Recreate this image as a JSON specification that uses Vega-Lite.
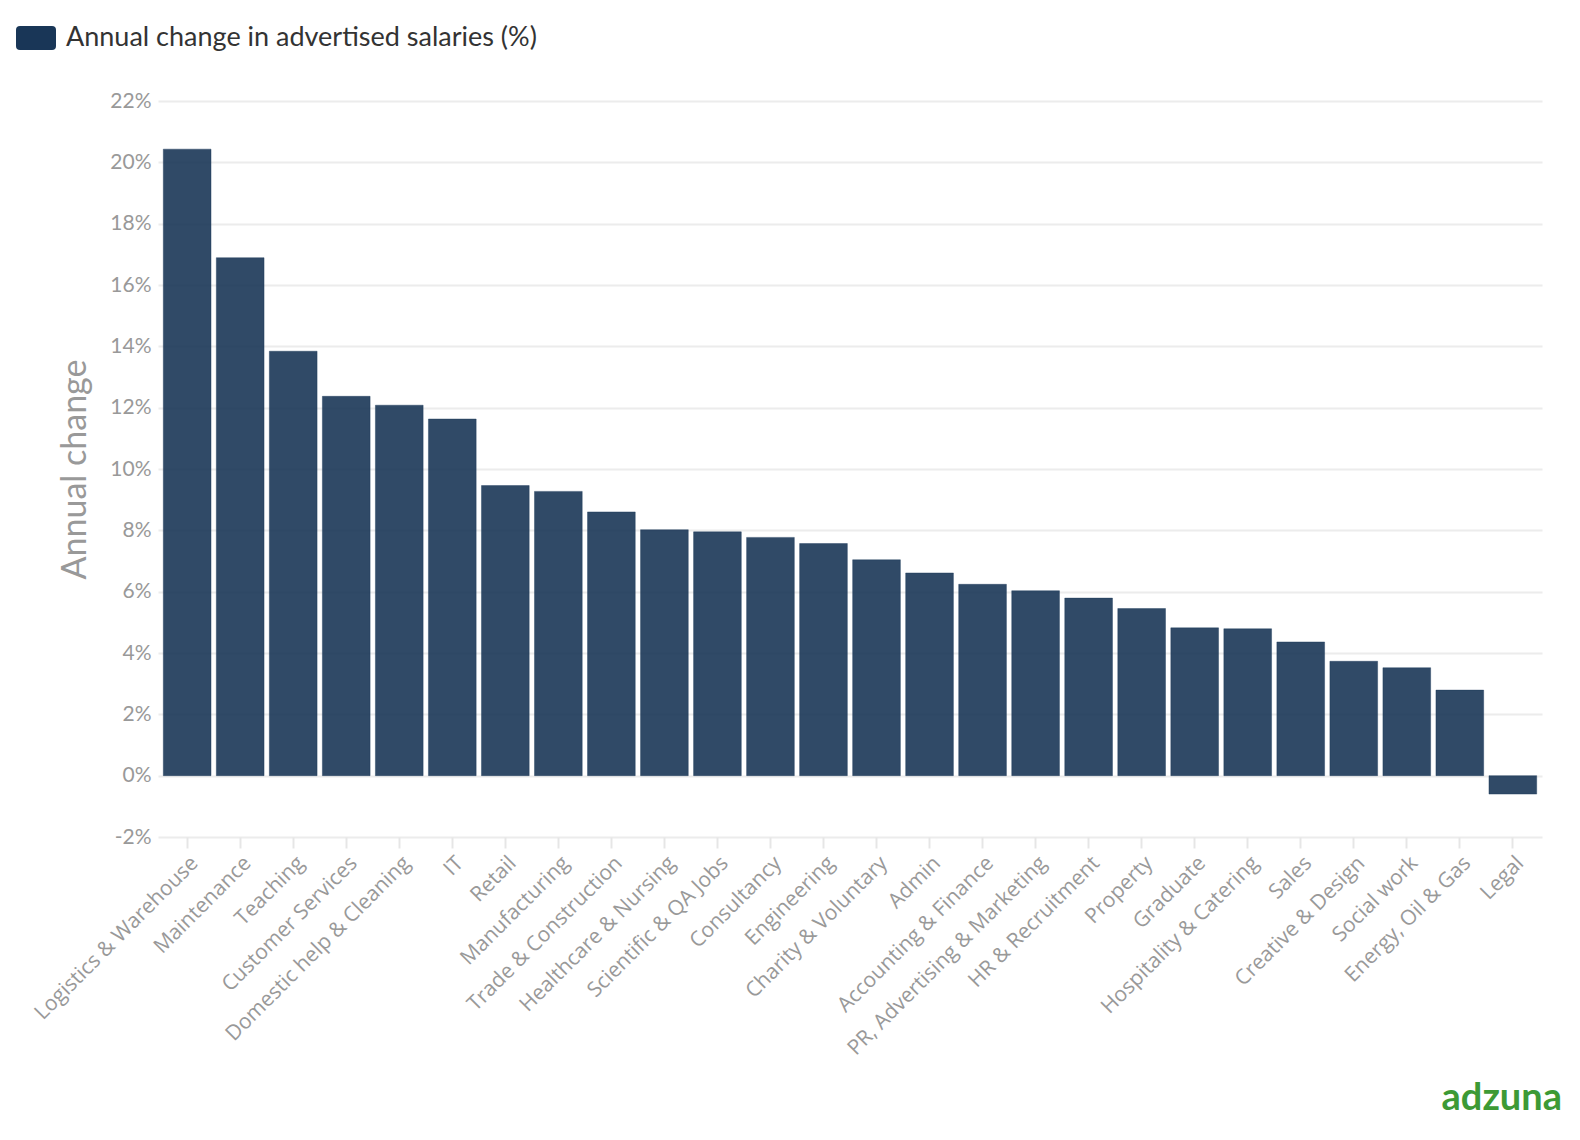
{
  "$schema": "https://vega.github.io/schema/vega-lite/v6.json",
  "autosize": "none",
  "width": 1384,
  "height": 736,
  "padding": {"left": 158, "top": 101, "right": 38, "bottom": 303},
  "background": "white",
  "title": {
    "text": "adzuna",
    "orient": "bottom",
    "anchor": "end",
    "frame": "group",
    "font": "Lato",
    "fontSize": 38,
    "fontWeight": 700,
    "color": "#3d9a35",
    "offset": 21,
    "dx": 20
  },
  "data": {
    "values": [
      {"sector": "Logistics & Warehouse", "change": 20.43, "series": "Annual change in advertised salaries (%)"},
      {"sector": "Maintenance", "change": 16.89, "series": "Annual change in advertised salaries (%)"},
      {"sector": "Teaching", "change": 13.84, "series": "Annual change in advertised salaries (%)"},
      {"sector": "Customer Services", "change": 12.37, "series": "Annual change in advertised salaries (%)"},
      {"sector": "Domestic help & Cleaning", "change": 12.08, "series": "Annual change in advertised salaries (%)"},
      {"sector": "IT", "change": 11.63, "series": "Annual change in advertised salaries (%)"},
      {"sector": "Retail", "change": 9.46, "series": "Annual change in advertised salaries (%)"},
      {"sector": "Manufacturing", "change": 9.27, "series": "Annual change in advertised salaries (%)"},
      {"sector": "Trade & Construction", "change": 8.6, "series": "Annual change in advertised salaries (%)"},
      {"sector": "Healthcare & Nursing", "change": 8.02, "series": "Annual change in advertised salaries (%)"},
      {"sector": "Scientific & QA Jobs", "change": 7.95, "series": "Annual change in advertised salaries (%)"},
      {"sector": "Consultancy", "change": 7.77, "series": "Annual change in advertised salaries (%)"},
      {"sector": "Engineering", "change": 7.57, "series": "Annual change in advertised salaries (%)"},
      {"sector": "Charity & Voluntary", "change": 7.04, "series": "Annual change in advertised salaries (%)"},
      {"sector": "Admin", "change": 6.61, "series": "Annual change in advertised salaries (%)"},
      {"sector": "Accounting & Finance", "change": 6.24, "series": "Annual change in advertised salaries (%)"},
      {"sector": "PR, Advertising & Marketing", "change": 6.03, "series": "Annual change in advertised salaries (%)"},
      {"sector": "HR & Recruitment", "change": 5.79, "series": "Annual change in advertised salaries (%)"},
      {"sector": "Property", "change": 5.45, "series": "Annual change in advertised salaries (%)"},
      {"sector": "Graduate", "change": 4.82, "series": "Annual change in advertised salaries (%)"},
      {"sector": "Hospitality & Catering", "change": 4.79, "series": "Annual change in advertised salaries (%)"},
      {"sector": "Sales", "change": 4.36, "series": "Annual change in advertised salaries (%)"},
      {"sector": "Creative & Design", "change": 3.73, "series": "Annual change in advertised salaries (%)"},
      {"sector": "Social work", "change": 3.52, "series": "Annual change in advertised salaries (%)"},
      {"sector": "Energy, Oil & Gas", "change": 2.79, "series": "Annual change in advertised salaries (%)"},
      {"sector": "Legal", "change": -0.6, "series": "Annual change in advertised salaries (%)"}
    ]
  },
  "mark": {
    "type": "bar",
    "fillOpacity": 0.9,
    "stroke": "#193657",
    "strokeOpacity": 0.4,
    "strokeWidth": 1
  },
  "encoding": {
    "x": {
      "field": "sector",
      "type": "nominal",
      "sort": null,
      "scale": {"paddingInner": 0.1, "paddingOuter": 0.1},
      "axis": {
        "title": null,
        "domain": false,
        "labelAngle": -45,
        "labelFont": "Open Sans",
        "labelFontSize": 21,
        "labelColor": "#999999",
        "labelPadding": 4,
        "tickColor": "#e6e6e6",
        "tickSize": 11,
        "tickWidth": 2,
        "labelLimit": 400
      }
    },
    "y": {
      "field": "change",
      "type": "quantitative",
      "scale": {"domain": [-2, 22], "nice": false, "zero": false},
      "axis": {
        "title": "Annual change",
        "titleFont": "Lato",
        "titleFontSize": 34,
        "titleFontWeight": "normal",
        "titleColor": "#999999",
        "titlePadding": 17,
        "values": [-2, 0, 2, 4, 6, 8, 10, 12, 14, 16, 18, 20, 22],
        "labelExpr": "datum.value + '%'",
        "labelFont": "Lato",
        "labelFontSize": 21,
        "labelColor": "#999999",
        "labelPadding": 7,
        "ticks": false,
        "domain": false,
        "gridColor": "#ececec",
        "gridWidth": 2
      }
    },
    "color": {
      "field": "series",
      "type": "nominal",
      "scale": {"range": ["#193657"]},
      "legend": {
        "title": null,
        "orient": "none",
        "legendX": -142,
        "legendY": -83,
        "symbolType": "M-0.8,-0.6 L0.8,-0.6 Q1,-0.6 1,-0.4 L1,0.4 Q1,0.6 0.8,0.6 L-0.8,0.6 Q-1,0.6 -1,0.4 L-1,-0.4 Q-1,-0.6 -0.8,-0.6 Z",
        "symbolSize": 1600,
        "symbolOpacity": 1,
        "symbolStrokeWidth": 0,
        "labelFont": "Lato",
        "labelFontSize": 27,
        "labelColor": "#333333",
        "labelOffset": 10,
        "labelLimit": 800
      }
    }
  },
  "config": {
    "view": {"stroke": null}
  }
}
